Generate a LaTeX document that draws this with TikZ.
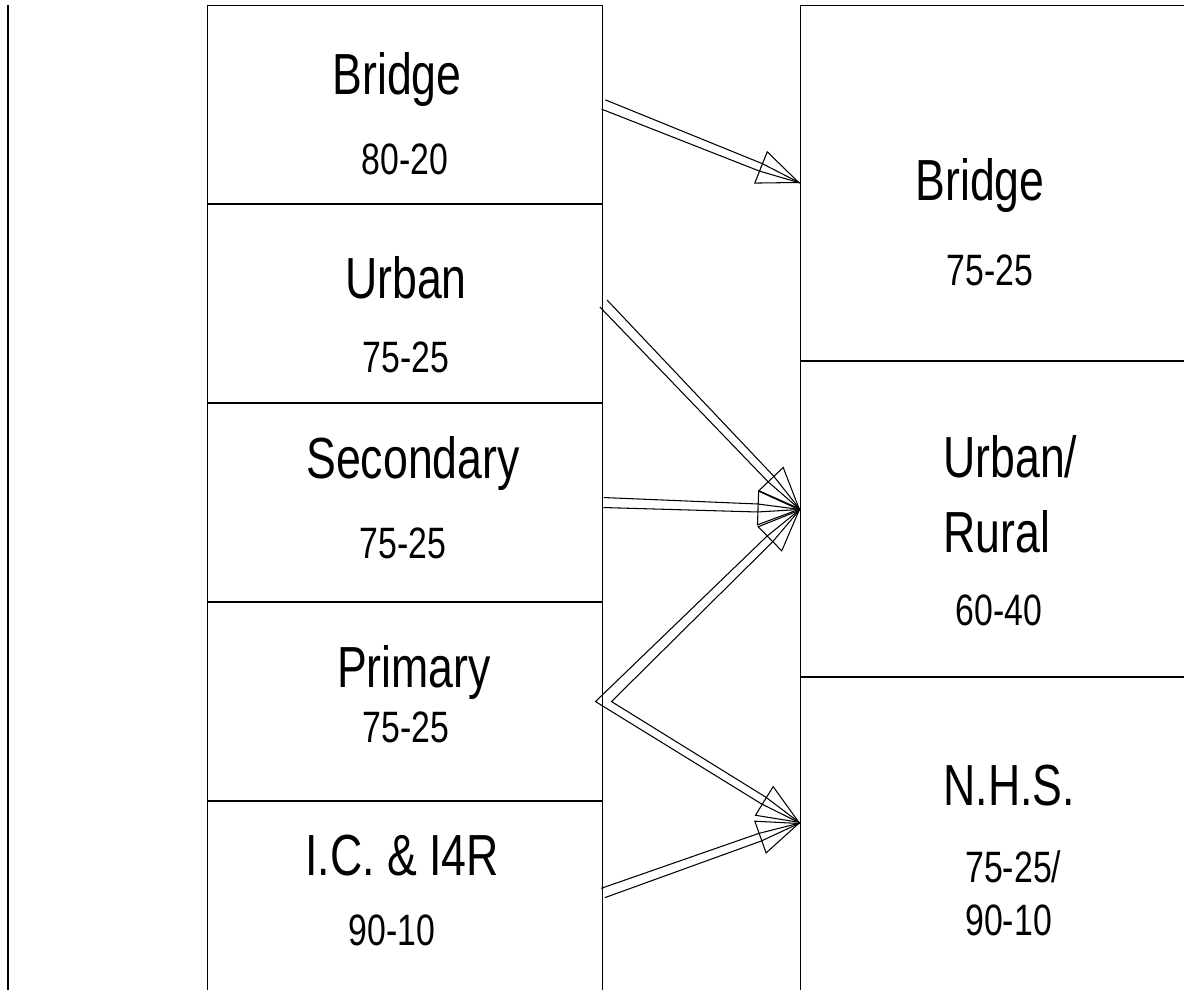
\documentclass[tikz,border=0pt]{standalone}
\usepackage{fontspec}
\setmainfont{Liberation Sans}[FakeStretch=0.77]
\usetikzlibrary{arrows.meta,calc}

\tikzset{
  box/.style={draw,line width=0.6pt,inner sep=0pt},
  bigtxt/.style={font=\fontsize{33}{38}\selectfont,anchor=base,inner sep=0pt},
  smalltxt/.style={font=\fontsize{25}{30}\selectfont,anchor=base,inner sep=0pt},
  flow/.style={line width=0.6pt,line join=miter},
  head/.style={line width=0.6pt,-{Triangle[open,length=0.85cm,width=0.7cm]}}
}

% double shaft running into an open head
\newcommand{\hollowarrow}[2]{%
  \coordinate (hb) at ($(#2)!0.85cm!(#1)$);
  \draw[flow] ($(#1)!0.1cm!90:(#2)$) -- ($(hb)!0.08cm!-90:(#1)$) -- (#2);
  \draw[flow] ($(#1)!0.1cm!-90:(#2)$) -- ($(hb)!0.08cm!90:(#1)$) -- (#2);
  \draw[head] (hb) -- (#2);
}

\begin{document}
\begin{tikzpicture}[x=0.02cm,y=-0.02cm]
  \useasboundingbox (0,0) rectangle (1184,990);

  \draw[line width=0.6pt] (8,5) -- (8,995);

  % left column
  \node[box,anchor=north,minimum width=7.92cm,minimum height=3.96cm] (lbridge) at (405,5) {};
  \node[box,anchor=north,minimum width=7.92cm,minimum height=3.96cm] (lurban) at (lbridge.south) {};
  \node[box,anchor=north,minimum width=7.92cm,minimum height=3.96cm] (lsec) at (lurban.south) {};
  \node[box,anchor=north,minimum width=7.92cm,minimum height=3.96cm] (lprim) at (lsec.south) {};
  \node[box,anchor=north,minimum width=7.92cm,minimum height=8cm] (lic) at (lprim.south) {};

  % right column
  \node[box,anchor=north west,minimum width=12cm,minimum height=7.1cm] (rbridge) at (800,5) {};
  \node[box,anchor=north west,minimum width=12cm,minimum height=6.3cm] (rurban) at (rbridge.south west) {};
  \node[box,anchor=north west,minimum width=12cm,minimum height=8.5cm] (rnhs) at (rurban.south west) {};

  \node[bigtxt] (lbridge-a) at (397,95) {Bridge};
  \node[smalltxt] (lbridge-b) at (405,174) {80-20};
  \node[bigtxt] (lurban-a) at (406,298) {Urban};
  \node[smalltxt] (lurban-b) at (406,372) {75-25};
  \node[bigtxt] (lsec-a) at (413,478) {Secondary};
  \node[smalltxt] (lsec-b) at (403,558) {75-25};
  \node[bigtxt] (lprim-a) at (414,687) {Primary};
  \node[smalltxt] (lprim-b) at (406,742) {75-25};
  \node[bigtxt] (lic-a) at (402,875) {I.C. \& I4R};
  \node[smalltxt] (lic-b) at (392,945) {90-10};

  \node[bigtxt] (rbridge-a) at (980,200) {Bridge};
  \node[smalltxt] (rbridge-b) at (990,285) {75-25};
  \node[bigtxt,anchor=base west] (rurban-a) at (943,477) {Urban/};
  \node[bigtxt,anchor=base west] (rurban-b) at (943,552) {Rural};
  \node[smalltxt] (rurban-c) at (999,625) {60-40};
  \node[bigtxt,anchor=base west] (rnhs-a) at (943,805) {N.H.S.};
  \node[smalltxt,anchor=base west] (rnhs-b) at (965,882) {75-25/};
  \node[smalltxt,anchor=base west] (rnhs-c) at (965,935) {90-10};

  \coordinate (urbin) at ([yshift=0.19cm]rurban.west);
  \coordinate (nhsin) at (800,823);
  \coordinate (icout) at (603,893);

  \hollowarrow{lbridge.east}{rbridge.west}
  \hollowarrow{lurban.east}{urbin}
  \hollowarrow{lsec.east}{urbin}
  \hollowarrow{icout}{nhsin}

  % primary splits both ways
  \coordinate (bu) at ($(urbin)!0.85cm!(lprim.east)$);
  \coordinate (bd) at ($(nhsin)!0.85cm!(lprim.east)$);
  \draw[flow] (urbin) -- ($(bu)!0.08cm!90:(urbin)$) -- ([xshift=-0.16cm]lprim.east)
    -- ($(bd)!0.08cm!-90:(nhsin)$) -- (nhsin);
  \draw[flow] (urbin) -- ($(bu)!0.08cm!-90:(urbin)$) -- ([xshift=0.16cm]lprim.east)
    -- ($(bd)!0.08cm!90:(nhsin)$) -- (nhsin);
  \draw[head] (bu) -- (urbin);
  \draw[head] (bd) -- (nhsin);
\end{tikzpicture}
\end{document}
